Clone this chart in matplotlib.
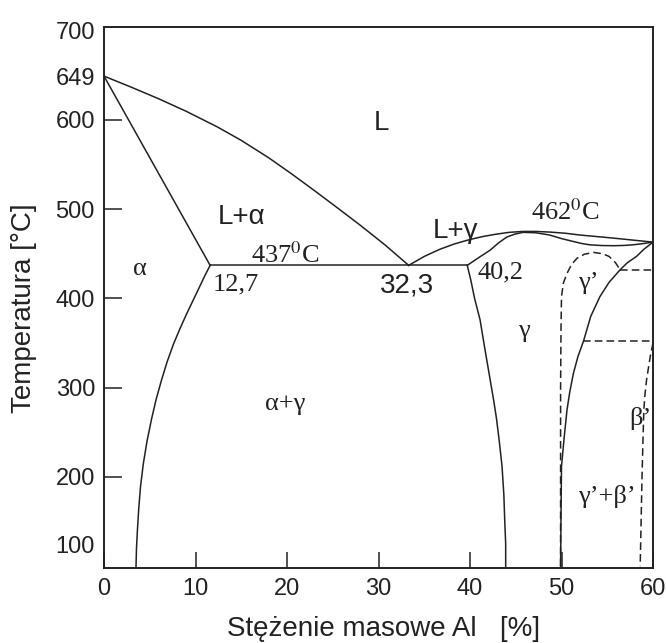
import matplotlib
matplotlib.use("Agg")
import matplotlib.pyplot as plt

plt.rcParams['mathtext.fontset'] = 'stix'

# liquidus L / L+alpha
liq_a_x = [0, 3, 6, 9, 12.4, 15, 18, 20.5, 22.9, 25.5, 28, 30.7, 33.3]
liq_a_t = [649, 636.5, 623.5, 609.5, 592, 577, 557.5, 539.5, 521.5, 501.5, 482, 460, 437]
# solidus alpha
sol_a_x = [0, 11.6]
sol_a_t = [649, 437]
# eutectic line 437 C
eut_x = [11.6, 39.7]
eut_t = [437, 437]
# alpha solvus
solv_a_x = [11.6, 11.0, 10.4, 9.7, 9.0, 8.3, 7.6, 6.9, 6.3, 5.7, 5.2, 4.7, 4.3, 4.0,
            3.8, 3.65, 3.55, 3.5]
solv_a_t = [437, 425, 412, 397, 382, 366, 349, 329, 309, 287, 265, 240, 215, 190,
            165, 140, 120, 100]
# liquidus L / L+gamma
liq_g_x = [33.3, 35, 36.7, 38.3, 40, 41.5, 42.9, 44.3, 45.8, 47.2, 48.7, 50.4, 52,
           53.8, 55.7, 57.8, 60]
liq_g_t = [437, 447, 455, 461, 466, 469.5, 472, 474, 475, 475, 474.3, 473, 471,
           469.3, 467.5, 465.3, 463]
# solidus gamma
sol_g_x = [39.7, 41, 42.2, 43.1, 44, 44.9, 45.8, 47.2, 48.7, 50, 51.3, 52.2, 53.1,
           54.4, 55.7, 56.8, 57.8, 59, 60]
sol_g_t = [437, 446, 454, 462, 468.6, 472, 474, 473.5, 471, 467, 463.7, 461.5, 460,
           459.2, 459, 459.3, 460, 461.5, 463]
# gamma left boundary
gl_x = [39.7, 40.1, 40.5, 41.1, 41.6, 42.2, 42.6, 42.9, 43.2, 43.5, 43.7, 43.8, 43.9, 43.9]
gl_t = [437, 420, 400, 376, 345, 309, 285, 265, 240, 212, 180, 150, 125, 100]
# gamma right boundary
gr_x = [60, 59, 58.2, 57.2, 56.4, 55.2, 54.2, 53.2, 52.4, 51.8, 51.3, 50.9, 50.6,
        50.3, 50.0, 49.95, 49.9]
gr_t = [463, 455, 447, 440, 432, 418, 402, 380, 352, 335, 316, 295, 275,
        245, 212, 160, 100]
# gamma' dome (dashed)
dome_x = [49.9, 49.9, 49.95, 50.0, 50.2, 50.6, 51.1, 51.7, 52.5, 53.5, 54.5, 55.2, 55.9, 56.4]
dome_t = [100, 300, 370, 402, 417, 428, 438, 445, 449.5, 451.5, 450, 447, 440, 432]
# beta' boundary (dashed)
beta_x = [60, 59.7, 59.5, 59.3, 59.1, 59.0, 58.9, 58.8, 58.7, 58.6]
beta_t = [350, 335, 322, 309, 290, 275, 240, 200, 150, 100]
# dashed horizontals
h1_x = [56.4, 60]
h1_t = [432, 432]
h2_x = [52.4, 60]
h2_t = [352, 352]

fig = plt.figure(figsize=(6.66, 6.43), dpi=100)
ax = fig.add_axes([104/666, 1-568/643, 549/666, 541/643])

c = '#222222'
lw = 1.1
for xs, ts in [(liq_a_x, liq_a_t), (sol_a_x, sol_a_t), (eut_x, eut_t),
               (solv_a_x, solv_a_t), (liq_g_x, liq_g_t), (sol_g_x, sol_g_t),
               (gl_x, gl_t), (gr_x, gr_t)]:
    ax.plot(xs, ts, color=c, lw=lw)
for xs, ts in [(dome_x, dome_t), (beta_x, beta_t), (h1_x, h1_t), (h2_x, h2_t)]:
    ax.plot(xs, ts, color=c, lw=lw, dashes=(5, 2.7))

ax.set_xlim(0, 60)
ax.set_ylim(98, 704)

for s in ax.spines.values():
    s.set_linewidth(1.4)
    s.set_color(c)

sans = 'Liberation Sans'
serif = 'Liberation Serif'

ax.set_xticks([0, 10, 20, 30, 40, 50, 60])
ax.set_yticks([200, 300, 400, 500, 600])
ax.set_yticks([649, 700], labels=['649', '700'], minor=True)
ax.tick_params(which='major', direction='in', width=1.1,
               labelsize=17, color=c, labelcolor=c)
ax.tick_params(axis='y', which='major', length=13)
ax.tick_params(axis='x', which='major', length=11.5, pad=7)
ax.tick_params(which='minor', length=0, labelsize=17, labelcolor=c)
ax.tick_params(axis='y', which='both', pad=6.5)
for lab in ax.get_xticklabels() + ax.get_yticklabels() + ax.get_yticklabels(minor=True):
    lab.set_family(sans)
ax.text(-0.017, 122, '100', transform=ax.get_yaxis_transform(), ha='right',
        va='center', fontsize=17, family=sans, color=c)

ax.set_xlabel('Stężenie masowe Al   [%]', fontsize=20, family=sans, color=c)
ax.set_ylabel('Temperatura [°C]', fontsize=20, family=sans, color=c)
ax.xaxis.set_label_coords(0.51, -0.088)
ax.yaxis.set_label_coords(-0.122, 0.48)

ax.text(30.3, 597, 'L', fontsize=20, family=sans, ha='center', va='center', color=c)
ax.text(15.0, 491, 'L+α', fontsize=20, family=sans, ha='center', va='center', color=c)
ax.text(38.4, 476, 'L+γ', fontsize=20, family=sans, ha='center', va='center', color=c)
ax.text(33.1, 414, '32,3', fontsize=20, family=sans, ha='center', va='center', color=c)
ax.text(3.9, 433, 'α', fontsize=19, family=serif, ha='center', va='center', color=c)
ax.text(19.8, 449, r'437$^\mathrm{0}$C', fontsize=19, family=serif, ha='center', va='center', color=c)
ax.text(14.4, 416, '12,7', fontsize=19, family=serif, ha='center', va='center', color=c)
ax.text(50.4, 497, r'462$^\mathrm{0}$C', fontsize=19, family=serif, ha='center', va='center', color=c)
ax.text(43.3, 429, '40,2', fontsize=19, family=serif, ha='center', va='center', color=c)
ax.text(52.9, 417, 'γ’', fontsize=19, family=serif, ha='center', va='center', color=c)
ax.text(45.9, 363, 'γ', fontsize=19, family=serif, ha='center', va='center', color=c)
ax.text(19.8, 282, 'α+γ', fontsize=19, family=serif, ha='center', va='center', color=c)
ax.text(58.6, 266, 'β’', fontsize=19, family=serif, ha='center', va='center', color=c)
ax.text(54.9, 178, 'γ’+β’', fontsize=19, family=serif, ha='center', va='center', color=c)

fig.savefig('out.png', dpi=100)
